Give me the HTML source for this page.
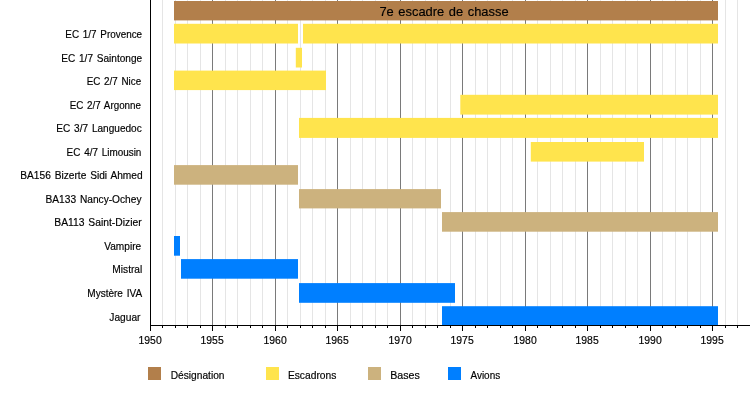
<!DOCTYPE html>
<html><head><meta charset="utf-8"><title>7e escadre de chasse</title>
<style>html,body{margin:0;padding:0;background:#fff}svg{display:block}text{font-family:"Liberation Sans",sans-serif;word-spacing:1.1px;fill:#000;stroke:#000;stroke-width:0.18px}</style></head><body>
<svg width="750" height="400" viewBox="0 0 750 400">
<rect width="750" height="400" fill="#fff"/>
<g id="grid"><rect x="162" y="0" width="1" height="325" fill="#e5e5e5"/>
<rect x="175" y="0" width="1" height="325" fill="#e5e5e5"/>
<rect x="187" y="0" width="1" height="325" fill="#e5e5e5"/>
<rect x="200" y="0" width="1" height="325" fill="#e5e5e5"/>
<rect x="225" y="0" width="1" height="325" fill="#e5e5e5"/>
<rect x="237" y="0" width="1" height="325" fill="#e5e5e5"/>
<rect x="250" y="0" width="1" height="325" fill="#e5e5e5"/>
<rect x="262" y="0" width="1" height="325" fill="#e5e5e5"/>
<rect x="287" y="0" width="1" height="325" fill="#e5e5e5"/>
<rect x="300" y="0" width="1" height="325" fill="#e5e5e5"/>
<rect x="312" y="0" width="1" height="325" fill="#e5e5e5"/>
<rect x="325" y="0" width="1" height="325" fill="#e5e5e5"/>
<rect x="350" y="0" width="1" height="325" fill="#e5e5e5"/>
<rect x="362" y="0" width="1" height="325" fill="#e5e5e5"/>
<rect x="375" y="0" width="1" height="325" fill="#e5e5e5"/>
<rect x="387" y="0" width="1" height="325" fill="#e5e5e5"/>
<rect x="412" y="0" width="1" height="325" fill="#e5e5e5"/>
<rect x="425" y="0" width="1" height="325" fill="#e5e5e5"/>
<rect x="437" y="0" width="1" height="325" fill="#e5e5e5"/>
<rect x="450" y="0" width="1" height="325" fill="#e5e5e5"/>
<rect x="475" y="0" width="1" height="325" fill="#e5e5e5"/>
<rect x="487" y="0" width="1" height="325" fill="#e5e5e5"/>
<rect x="500" y="0" width="1" height="325" fill="#e5e5e5"/>
<rect x="512" y="0" width="1" height="325" fill="#e5e5e5"/>
<rect x="537" y="0" width="1" height="325" fill="#e5e5e5"/>
<rect x="550" y="0" width="1" height="325" fill="#e5e5e5"/>
<rect x="562" y="0" width="1" height="325" fill="#e5e5e5"/>
<rect x="575" y="0" width="1" height="325" fill="#e5e5e5"/>
<rect x="600" y="0" width="1" height="325" fill="#e5e5e5"/>
<rect x="612" y="0" width="1" height="325" fill="#e5e5e5"/>
<rect x="625" y="0" width="1" height="325" fill="#e5e5e5"/>
<rect x="637" y="0" width="1" height="325" fill="#e5e5e5"/>
<rect x="662" y="0" width="1" height="325" fill="#e5e5e5"/>
<rect x="675" y="0" width="1" height="325" fill="#e5e5e5"/>
<rect x="687" y="0" width="1" height="325" fill="#e5e5e5"/>
<rect x="700" y="0" width="1" height="325" fill="#e5e5e5"/>
<rect x="725" y="0" width="1" height="325" fill="#e5e5e5"/>
<rect x="737" y="0" width="1" height="325" fill="#e5e5e5"/>
<rect x="212" y="0" width="1" height="325" fill="#7a7a7a"/>
<rect x="275" y="0" width="1" height="325" fill="#7a7a7a"/>
<rect x="337" y="0" width="1" height="325" fill="#7a7a7a"/>
<rect x="400" y="0" width="1" height="325" fill="#7a7a7a"/>
<rect x="462" y="0" width="1" height="325" fill="#7a7a7a"/>
<rect x="525" y="0" width="1" height="325" fill="#7a7a7a"/>
<rect x="587" y="0" width="1" height="325" fill="#7a7a7a"/>
<rect x="650" y="0" width="1" height="325" fill="#7a7a7a"/>
<rect x="712" y="0" width="1" height="325" fill="#7a7a7a"/></g>
<g id="bars"><rect x="174" y="1.00" width="544.00" height="19.40" fill="#b27f4b"/>
<rect x="174" y="23.80" width="124.00" height="19.70" fill="#ffe44d"/>
<rect x="303" y="23.80" width="415.00" height="19.70" fill="#ffe44d"/>
<rect x="295.8" y="47.80" width="6.20" height="19.70" fill="#ffe44d"/>
<rect x="174" y="70.60" width="152.00" height="19.50" fill="#ffe44d"/>
<rect x="460.3" y="94.80" width="257.70" height="19.80" fill="#ffe44d"/>
<rect x="299" y="117.90" width="419.00" height="20.00" fill="#ffe44d"/>
<rect x="530.8" y="142.00" width="113.20" height="19.60" fill="#ffe44d"/>
<rect x="174" y="165.10" width="124.00" height="19.60" fill="#ccb27e"/>
<rect x="299" y="189.10" width="142.00" height="19.30" fill="#ccb27e"/>
<rect x="442" y="212.10" width="276.00" height="19.60" fill="#ccb27e"/>
<rect x="174" y="236.00" width="6.00" height="19.70" fill="#007fff"/>
<rect x="181" y="259.10" width="117.00" height="19.60" fill="#007fff"/>
<rect x="299" y="283.10" width="156.00" height="19.70" fill="#007fff"/>
<rect x="442" y="306.20" width="276.00" height="19.00" fill="#007fff"/></g>
<g id="axes"><rect x="150" y="0" width="1" height="331" fill="#000"/>
<rect x="150" y="325" width="600" height="1" fill="#000"/>
<rect x="162" y="325" width="1" height="3" fill="#000"/>
<rect x="175" y="325" width="1" height="3" fill="#000"/>
<rect x="187" y="325" width="1" height="3" fill="#000"/>
<rect x="200" y="325" width="1" height="3" fill="#000"/>
<rect x="212" y="325" width="1" height="6" fill="#000"/>
<rect x="225" y="325" width="1" height="3" fill="#000"/>
<rect x="237" y="325" width="1" height="3" fill="#000"/>
<rect x="250" y="325" width="1" height="3" fill="#000"/>
<rect x="262" y="325" width="1" height="3" fill="#000"/>
<rect x="275" y="325" width="1" height="6" fill="#000"/>
<rect x="287" y="325" width="1" height="3" fill="#000"/>
<rect x="300" y="325" width="1" height="3" fill="#000"/>
<rect x="312" y="325" width="1" height="3" fill="#000"/>
<rect x="325" y="325" width="1" height="3" fill="#000"/>
<rect x="337" y="325" width="1" height="6" fill="#000"/>
<rect x="350" y="325" width="1" height="3" fill="#000"/>
<rect x="362" y="325" width="1" height="3" fill="#000"/>
<rect x="375" y="325" width="1" height="3" fill="#000"/>
<rect x="387" y="325" width="1" height="3" fill="#000"/>
<rect x="400" y="325" width="1" height="6" fill="#000"/>
<rect x="412" y="325" width="1" height="3" fill="#000"/>
<rect x="425" y="325" width="1" height="3" fill="#000"/>
<rect x="437" y="325" width="1" height="3" fill="#000"/>
<rect x="450" y="325" width="1" height="3" fill="#000"/>
<rect x="462" y="325" width="1" height="6" fill="#000"/>
<rect x="475" y="325" width="1" height="3" fill="#000"/>
<rect x="487" y="325" width="1" height="3" fill="#000"/>
<rect x="500" y="325" width="1" height="3" fill="#000"/>
<rect x="512" y="325" width="1" height="3" fill="#000"/>
<rect x="525" y="325" width="1" height="6" fill="#000"/>
<rect x="537" y="325" width="1" height="3" fill="#000"/>
<rect x="550" y="325" width="1" height="3" fill="#000"/>
<rect x="562" y="325" width="1" height="3" fill="#000"/>
<rect x="575" y="325" width="1" height="3" fill="#000"/>
<rect x="587" y="325" width="1" height="6" fill="#000"/>
<rect x="600" y="325" width="1" height="3" fill="#000"/>
<rect x="612" y="325" width="1" height="3" fill="#000"/>
<rect x="625" y="325" width="1" height="3" fill="#000"/>
<rect x="637" y="325" width="1" height="3" fill="#000"/>
<rect x="650" y="325" width="1" height="6" fill="#000"/>
<rect x="662" y="325" width="1" height="3" fill="#000"/>
<rect x="675" y="325" width="1" height="3" fill="#000"/>
<rect x="687" y="325" width="1" height="3" fill="#000"/>
<rect x="700" y="325" width="1" height="3" fill="#000"/>
<rect x="712" y="325" width="1" height="6" fill="#000"/>
<rect x="725" y="325" width="1" height="3" fill="#000"/>
<rect x="737" y="325" width="1" height="3" fill="#000"/></g>
<g id="text" style="filter:blur(0.3px)"><text id="r1" x="65.30" y="38.00" font-size="11" textLength="76.81" lengthAdjust="spacingAndGlyphs">EC 1/7 Provence</text>
<text id="r2" x="61.25" y="62.00" font-size="11" textLength="80.89" lengthAdjust="spacingAndGlyphs">EC 1/7 Saintonge</text>
<text id="r3" x="86.67" y="85.00" font-size="11" textLength="54.49" lengthAdjust="spacingAndGlyphs">EC 2/7 Nice</text>
<text id="r4" x="69.64" y="109.00" font-size="11" textLength="71.41" lengthAdjust="spacingAndGlyphs">EC 2/7 Argonne</text>
<text id="r5" x="56.25" y="132.00" font-size="11" textLength="85.51" lengthAdjust="spacingAndGlyphs">EC 3/7 Languedoc</text>
<text id="r6" x="66.61" y="156.00" font-size="11" textLength="74.76" lengthAdjust="spacingAndGlyphs">EC 4/7 Limousin</text>
<text id="r7" x="20.29" y="179.00" font-size="11" textLength="122.35" lengthAdjust="spacingAndGlyphs">BA156 Bizerte Sidi Ahmed</text>
<text id="r8" x="45.55" y="203.00" font-size="11" textLength="95.95" lengthAdjust="spacingAndGlyphs">BA133 Nancy-Ochey</text>
<text id="r9" x="54.25" y="226.00" font-size="11" textLength="87.35" lengthAdjust="spacingAndGlyphs">BA113 Saint-Dizier</text>
<text id="r10" x="104.24" y="250.00" font-size="11" textLength="36.90" lengthAdjust="spacingAndGlyphs">Vampire</text>
<text id="r11" x="112.36" y="273.00" font-size="11" textLength="29.90" lengthAdjust="spacingAndGlyphs">Mistral</text>
<text id="r12" x="87.30" y="297.00" font-size="11" textLength="54.84" lengthAdjust="spacingAndGlyphs">Mystère IVA</text>
<text id="r13" x="109.34" y="321.00" font-size="11" textLength="31.16" lengthAdjust="spacingAndGlyphs">Jaguar</text>
<text id="title" x="379.38" y="16.30" font-size="13.5" textLength="129.22" lengthAdjust="spacingAndGlyphs">7e escadre de chasse</text>
<text id="l0" x="170.65" y="379.00" font-size="11" textLength="53.86" lengthAdjust="spacingAndGlyphs">Désignation</text>
<text id="l1" x="287.92" y="379.00" font-size="11" textLength="48.44" lengthAdjust="spacingAndGlyphs">Escadrons</text>
<text id="l2" x="390.13" y="379.00" font-size="11" textLength="29.61" lengthAdjust="spacingAndGlyphs">Bases</text>
<text id="l3" x="470.44" y="379.00" font-size="11" textLength="29.73" lengthAdjust="spacingAndGlyphs">Avions</text>
<text x="150.10" y="344" font-size="11" text-anchor="middle" textLength="23.2" lengthAdjust="spacingAndGlyphs">1950</text>
<text x="212.10" y="344" font-size="11" text-anchor="middle" textLength="23.2" lengthAdjust="spacingAndGlyphs">1955</text>
<text x="275.10" y="344" font-size="11" text-anchor="middle" textLength="23.2" lengthAdjust="spacingAndGlyphs">1960</text>
<text x="337.10" y="344" font-size="11" text-anchor="middle" textLength="23.2" lengthAdjust="spacingAndGlyphs">1965</text>
<text x="400.10" y="344" font-size="11" text-anchor="middle" textLength="23.2" lengthAdjust="spacingAndGlyphs">1970</text>
<text x="462.10" y="344" font-size="11" text-anchor="middle" textLength="23.2" lengthAdjust="spacingAndGlyphs">1975</text>
<text x="525.10" y="344" font-size="11" text-anchor="middle" textLength="23.2" lengthAdjust="spacingAndGlyphs">1980</text>
<text x="587.10" y="344" font-size="11" text-anchor="middle" textLength="23.2" lengthAdjust="spacingAndGlyphs">1985</text>
<text x="650.10" y="344" font-size="11" text-anchor="middle" textLength="23.2" lengthAdjust="spacingAndGlyphs">1990</text>
<text x="712.10" y="344" font-size="11" text-anchor="middle" textLength="23.2" lengthAdjust="spacingAndGlyphs">1995</text>
<rect x="148" y="367" width="13" height="13" fill="#b27f4b"/>
<rect x="266" y="367" width="13" height="13" fill="#ffe44d"/>
<rect x="368" y="367" width="13" height="13" fill="#ccb27e"/>
<rect x="448" y="367" width="13" height="13" fill="#007fff"/></g>
</svg></body></html>
